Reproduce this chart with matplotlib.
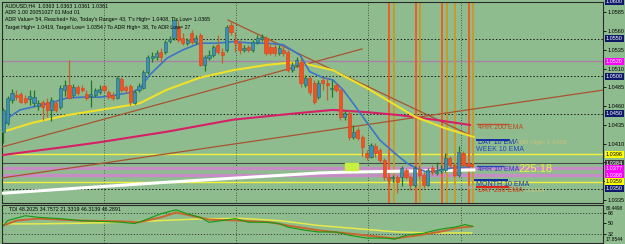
import numpy as np
import matplotlib
matplotlib.use("Agg")
import matplotlib.pyplot as plt
import matplotlib.transforms as mtransforms
from matplotlib.patches import Rectangle

plt.rcParams['font.family'] = ['Liberation Sans Narrow', 'Liberation Sans', 'DejaVu Sans']

# ---- H4 candles (AUDUSD) ----
opens = [1.0426, 1.0438, 1.0468, 1.0475, 1.0476, 1.0471, 1.0470, 1.0464, 1.0460, 1.0466,
         1.0466, 1.0455, 1.0464, 1.0459, 1.0482, 1.0488, 1.0475, 1.0486, 1.0484, 1.0476,
         1.0474, 1.0475, 1.0479, 1.0487, 1.0479, 1.0475, 1.0471, 1.0496, 1.0486, 1.0487,
         1.0464, 1.0482, 1.0484, 1.0506, 1.0524, 1.0526, 1.0532, 1.0532, 1.0547, 1.0551,
         1.0566, 1.0551, 1.0544, 1.0558, 1.0546, 1.0555, 1.0515, 1.0524, 1.0528, 1.0542,
         1.0532, 1.0535, 1.0568, 1.0548, 1.0544, 1.0535, 1.0539, 1.0535, 1.0546, 1.0550,
         1.0551, 1.0539, 1.0539, 1.0531, 1.0535, 1.0532, 1.0508, 1.0515, 1.0519, 1.0488,
         1.0498, 1.0491, 1.0472, 1.0495, 1.0491, 1.0483, 1.0488, 1.0482, 1.0446, 1.0451,
         1.0419, 1.0428, 1.0419, 1.0398, 1.0392, 1.0407, 1.0402, 1.0388, 1.0366, 1.0364,
         1.0366, 1.0366, 1.0375, 1.0366, 1.0355, 1.0376, 1.0368, 1.0355, 1.0378, 1.0371,
         1.0374, 1.0375, 1.0391, 1.0382, 1.0368, 1.0398, 1.0383, 1.0383]
highs = [1.0458, 1.0474, 1.0483, 1.0482, 1.0479, 1.0475, 1.0482, 1.0482, 1.0468, 1.0468,
         1.0471, 1.0472, 1.0468, 1.0488, 1.0495, 1.0522, 1.0490, 1.0488, 1.0488, 1.0482,
         1.0495, 1.0484, 1.0488, 1.0490, 1.0482, 1.0479, 1.0500, 1.0499, 1.0488, 1.0490,
         1.0482, 1.0491, 1.0508, 1.0528, 1.0532, 1.0535, 1.0538, 1.0548, 1.0554, 1.0578,
         1.0575, 1.0558, 1.0551, 1.0562, 1.0555, 1.0558, 1.0528, 1.0535, 1.0542, 1.0555,
         1.0538, 1.0568, 1.0574, 1.0559, 1.0548, 1.0542, 1.0542, 1.0548, 1.0555, 1.0556,
         1.0554, 1.0543, 1.0543, 1.0542, 1.0540, 1.0535, 1.0519, 1.0526, 1.0524, 1.0502,
         1.0500, 1.0495, 1.0495, 1.0499, 1.0498, 1.0495, 1.0491, 1.0484, 1.0454, 1.0455,
         1.0435, 1.0432, 1.0422, 1.0402, 1.0411, 1.0411, 1.0404, 1.0391, 1.0368, 1.0368,
         1.0368, 1.0380, 1.0378, 1.0368, 1.0380, 1.0382, 1.0372, 1.0378, 1.0382, 1.0386,
         1.0382, 1.0398, 1.0394, 1.0384, 1.0407, 1.0400, 1.0384, 1.0384]
lows = [1.0411, 1.0435, 1.0464, 1.0468, 1.0464, 1.0463, 1.0462, 1.0460, 1.0455, 1.0442,
        1.0446, 1.0440, 1.0452, 1.0456, 1.0474, 1.0470, 1.0472, 1.0475, 1.0479, 1.0468,
        1.0459, 1.0472, 1.0476, 1.0479, 1.0470, 1.0468, 1.0470, 1.0479, 1.0478, 1.0462,
        1.0463, 1.0479, 1.0483, 1.0503, 1.0519, 1.0522, 1.0519, 1.0530, 1.0544, 1.0548,
        1.0546, 1.0542, 1.0542, 1.0543, 1.0543, 1.0514, 1.0507, 1.0522, 1.0526, 1.0530,
        1.0518, 1.0532, 1.0555, 1.0532, 1.0530, 1.0532, 1.0532, 1.0532, 1.0543, 1.0547,
        1.0528, 1.0528, 1.0527, 1.0528, 1.0527, 1.0506, 1.0506, 1.0512, 1.0486, 1.0486,
        1.0475, 1.0463, 1.0470, 1.0482, 1.0468, 1.0472, 1.0479, 1.0442, 1.0442, 1.0415,
        1.0416, 1.0415, 1.0394, 1.0388, 1.0391, 1.0392, 1.0384, 1.0362, 1.0355, 1.0359,
        1.0344, 1.0354, 1.0363, 1.0348, 1.0352, 1.0364, 1.0351, 1.0354, 1.0368, 1.0368,
        1.0371, 1.0372, 1.0378, 1.0366, 1.0366, 1.0379, 1.0379, 1.0379]
closes = [1.0455, 1.0471, 1.0478, 1.0472, 1.0466, 1.0466, 1.0474, 1.0472, 1.0464, 1.0459,
          1.0455, 1.0468, 1.0455, 1.0484, 1.0488, 1.0471, 1.0486, 1.0478, 1.0482, 1.0471,
          1.0476, 1.0482, 1.0483, 1.0482, 1.0472, 1.0471, 1.0498, 1.0482, 1.0482, 1.0466,
          1.0479, 1.0487, 1.0506, 1.0526, 1.0527, 1.0531, 1.0526, 1.0546, 1.0550, 1.0575,
          1.0548, 1.0544, 1.0548, 1.0546, 1.0551, 1.0515, 1.0526, 1.0528, 1.0539, 1.0532,
          1.0528, 1.0566, 1.0559, 1.0544, 1.0535, 1.0538, 1.0535, 1.0546, 1.0551, 1.0552,
          1.0531, 1.0531, 1.0531, 1.0538, 1.0531, 1.0508, 1.0515, 1.0522, 1.0491, 1.0498,
          1.0479, 1.0466, 1.0491, 1.0491, 1.0488, 1.0484, 1.0482, 1.0446, 1.0451, 1.0419,
          1.0426, 1.0418, 1.0406, 1.0392, 1.0408, 1.0398, 1.0388, 1.0366, 1.0362, 1.0366,
          1.0359, 1.0378, 1.0366, 1.0355, 1.0378, 1.0368, 1.0355, 1.0375, 1.0372, 1.0374,
          1.0376, 1.0391, 1.0382, 1.0368, 1.0399, 1.0382, 1.0380, 1.0380]

# ---- moving averages, read at bar positions ----
ema10_bar = [0, 1.5, 3.8, 6.8, 10.7, 14.6, 18.2, 22.1, 26, 29.6, 31.2, 33.5, 37.4, 41, 44.9,
             48.8, 52.5, 57, 60.2, 63.9, 67.8, 70, 73, 75.3, 77.6, 79.9, 83.1, 86, 89.3,
             92.2, 94.1, 96.8, 99.8, 103, 106.6]
ema10_val = [1.0432, 1.0446, 1.0455, 1.0459, 1.0464, 1.0471, 1.0472, 1.0472, 1.0475, 1.0479,
             1.0484, 1.0502, 1.0524, 1.0535, 1.0544, 1.0544, 1.0546, 1.0544, 1.0544, 1.0542,
             1.0528, 1.0506, 1.0498, 1.0495, 1.0482, 1.0464, 1.0438, 1.0415, 1.0398, 1.0384,
             1.0378, 1.0372, 1.0375, 1.0378, 1.0379]
ema50_bar = [0, 6.8, 14.6, 22.1, 29.6, 31.2, 37.4, 44.9, 52.5, 60.2, 65.5, 67.8, 75.3, 83.1,
             90.6, 94, 100.7, 107.5]
ema50_val = [1.0426, 1.0438, 1.0448, 1.0455, 1.0462, 1.0464, 1.0482, 1.0498, 1.0508, 1.0515,
             1.0518, 1.0518, 1.0508, 1.0484, 1.0458, 1.0446, 1.0431, 1.0419]
ema200_bar = [0, 14.6, 22.1, 37.4, 52.5, 67.8, 75.3, 83.1, 90.6, 98.4, 106.6]
ema200_val = [1.0395, 1.0406, 1.0412, 1.0426, 1.0442, 1.0451, 1.0455, 1.0452, 1.0448, 1.0442,
              1.0435]
white_bar = [0, 35.8, 72.4, 78, 107.5]
white_val = [1.0344, 1.0358, 1.0371, 1.0372, 1.0375]

# ---- trend lines (start bar, start price, end bar, end price) ----
trend_lines = [(-0.3, 1.04056, 81.95, 1.05363),
               (-0.3, 1.03643, 137.2, 1.04816),
               (51.3, 1.05749, 107.5, 1.04189)]

# ---- horizontal levels ----
grid_levels = [1.0600, 1.0550, 1.0500, 1.0450, 1.0350]
price_ticks = [1.0585, 1.0560, 1.0535, 1.0510, 1.0485, 1.0460, 1.0435, 1.0410, 1.0385,
               1.0360, 1.0335]
hidden_ticks = [1.0385, 1.0360]
level_labels = [(1.0600, '1.0600', '#10186a', 'white'),
                (1.0550, '1.0550', '#10186a', 'white'),
                (1.0520, '1.0520', '#ff00ff', 'white'),
                (1.0500, '1.0500', '#10186a', 'white'),
                (1.0450, '1.0450', '#10186a', 'white'),
                (1.0396, '1.0396', '#ffff00', 'black'),
                (1.0384, '1.0384', '#3a3a3a', 'white'),
                (1.0377, '1.0377', '#ff00ff', 'white'),
                (1.0368, '1.0368', '#ff00ff', 'white'),
                (1.0359, '1.0359', '#ffff00', 'black'),
                (1.0350, '1.0350', '#10186a', 'white')]

# ---- TDI panel ----
tdi_green_bar = [0, 1, 5, 8, 13, 17.5, 23, 27, 30, 32, 36, 38.5, 39.5, 42, 45, 47, 50, 53, 56,
                 60, 63, 65, 69, 72, 76, 79, 83, 87, 89.5, 92, 96, 98.6, 101.4, 103.2, 105.5,
                 107.3]
tdi_green = [46.7, 54.8, 62.8, 60.1, 58.0, 54.8, 53.2, 52.0, 49.9, 54.8, 66.0, 70.8, 72.4, 66.0,
             60.1, 52.0, 54.8, 58.0, 52.0, 52.0, 49.9, 44.0, 38.7, 36.0, 36.0, 30.7, 25.9, 25.9,
             24.3, 30.7, 33.9, 38.7, 42.4, 44.0, 48.3, 45.1]
tdi_red_bar = [0, 3, 8, 17.5, 26.7, 31, 36, 39.5, 43, 47, 54, 61, 65, 72, 79, 86, 89.5, 95,
               99.5, 104, 107]
tdi_red = [46.7, 54.8, 58.0, 54.8, 53.6, 52.0, 60.1, 68.1, 62.8, 56.4, 54.8, 52.0, 46.7, 38.7,
           33.4, 27.9, 25.4, 30.7, 36.0, 43.0, 45.1]
tdi_yellow_bar = [0, 8, 17.5, 27, 36, 45, 54, 63, 72, 81, 90, 98, 107]
tdi_yellow = [49.4, 49.4, 50.4, 52.0, 54.8, 57.5, 58.5, 54.8, 46.7, 41.4, 36.0, 34.4, 34.4]

BG = '#8fbc8f'
W, H = 625, 244
fig = plt.figure(figsize=(W / 100, H / 100), dpi=100, facecolor=BG)
ax = fig.add_axes([2 / W, 41 / H, 601 / W, 201 / H], facecolor=BG)
axi = fig.add_axes([2 / W, 1 / H, 601 / W, 38 / H], facecolor=BG)

XMIN, XMAX = -0.3, 137.0
ax.set_xlim(XMIN, XMAX)
ax.set_ylim(1.03309, 1.05989)
axi.set_xlim(XMIN, XMAX)
axi.set_ylim(17.8544, 80.4498)

for a in (ax, axi):
    for s in a.spines.values():
        s.set_color('#2a2a2a')
        s.set_linewidth(0.8)
    a.set_xticks([])
    a.yaxis.tick_right()
    a.tick_params(axis='y', length=2, width=0.6, pad=1.2, labelsize=4.0, colors='black')
    for xg in [23.0, 53.2, 83.3, 104.6]:
        a.axvline(xg, color='#333333', lw=0.6, ls=(0, (1, 2)), zorder=1)

ax.set_yticks(price_ticks)
ax.set_yticklabels(['' if t in hidden_ticks else '%.4f' % t for t in price_ticks])

# grid and levels
for g in grid_levels:
    ax.axhline(g, color='#1a1a1a', lw=0.7, ls=(0, (1.5, 2)), zorder=1)
ax.axhline(1.0520, color='#a483a4', lw=1.0, zorder=1)
ax.axhline(1.0396, color='#f2f23c', lw=1.0, zorder=1)
ax.axhline(1.0359, color='#f2f23c', lw=1.0, zorder=1)
ax.axhline(1.0384, color='#4a4a4a', lw=0.8, zorder=1)
ax.axhline(1.0377, color='#c68cc6', lw=2.4, zorder=1)
ax.axhline(1.0368, color='#c68cc6', lw=2.4, zorder=1)

# vertical session lines
for xv in [88.0, 94.2, 100.2, 106.4]:
    ax.axvline(xv, color='#ee5f22', lw=1.4, zorder=2)
for xv in [89.3, 95.3, 101.4, 103.3, 107.3]:
    ax.axvline(xv, color='#c99a2e', lw=1.4, zorder=2)

# trend lines
for x0, y0, x1, y1 in trend_lines:
    ax.plot([x0, x1], [y0, y1], color='#a9532e', lw=0.9, zorder=3)

ax.plot(white_bar, white_val, color='white', lw=2.2, zorder=3)
ax.plot(ema200_bar, ema200_val, color='#d61f66', lw=1.5, zorder=3)
ax.plot(ema50_bar, ema50_val, color='#f0e028', lw=1.5, zorder=3)
ax.plot(ema10_bar, ema10_val, color='#3b74c8', lw=1.2, zorder=4)
ax.add_patch(Rectangle((78.1, 1.0375), 2.9, 0.0009, color='#c8f040', zorder=3))

# candles
o = np.array(opens)
c = np.array(closes)
idx = np.arange(len(c))
up = c >= o
wick_col = np.where(up, '#1f7a1f', '#c0622a')
body_col = np.where(up, '#3e8dbd', '#f25122')
edge_col = np.where(up, '#1f6a4a', '#d8401a')
ax.vlines(idx, lows, highs, colors=wick_col, lw=0.9, zorder=5)
ax.bar(idx, np.maximum(np.abs(c - o), 0.00008), bottom=np.minimum(o, c), width=0.72,
       color=body_col, edgecolor=edge_col, lw=0.4, zorder=6)

# EMA labels
def tag(x0, x1, y_line, y_text, text, line_col, text_col, lw=1.4):
    if y_line is not None:
        ax.plot([x0, x1], [y_line, y_line], color=line_col, lw=lw, zorder=7)
    ax.text(x0 + 0.3, y_text, text, color=text_col, fontsize=5.0, va='center', ha='left',
            zorder=8)

tag(108.2, 115.3, 1.0436, 1.0431, '4HR 200 EMA', '#c0502a', '#c04a20', lw=1.0)
tag(108.2, 115.3, 1.0415, 1.0411, 'DAY 10 EMA', '#1028a0', '#1838a8')
tag(107.8, 115.3, None, 1.0402, 'WEEK 10 EMA', '#1028a0', '#2448b8')
tag(108.2, 114.2, 1.0380, 1.0375, '4HR 10 EMA', '#2848b8', '#2448b8', lw=1.0)
tag(107.8, 115.1, 1.0362, 1.0356, 'MONTH 10 EMA', '#1028a0', '#1838a8')
tag(108.2, 115.3, 1.0352, 1.0347, 'DAY 200 EMA', '#e02020', '#d83c14')
ax.text(117.6, 1.0376, '225:18', color='#f4f040', fontsize=8.0, va='center', ha='left', zorder=8)
ax.text(117.0, 1.0412, 'ADR High: 1.0419', color='#c9c27a', fontsize=4.6, va='center', zorder=8)
ax.text(119.4, 1.0347, '1.0354', color='#c9c27a', fontsize=4.6, va='center', zorder=8)
ax.text(101.4, 1.0351, 'ADR Start', color='#a2b6c6', fontsize=4.3, va='center', zorder=8)

# price labels on the axis
trans = mtransforms.blended_transform_factory(ax.transAxes, ax.transData)
for p, txt, fc, tc in level_labels:
    ax.text(1.0045, p, txt, transform=trans, fontsize=4.0, color=tc, va='center', ha='left',
            bbox=dict(boxstyle='square,pad=0.18', fc=fc, ec='none'), clip_on=False, zorder=10)

# header
header = ['AUDUSD,H4  1.0363 1.0363 1.0361 1.0361',
          'ADR 1.00 20051027 01 Mod 01',
          "ADR Value= 54, Reached= No, Today's Range= 43, T's High= 1.0408, T's Low= 1.0365",
          'Target High= 1.0419, Target Low= 1.0354 / To ADR High= 38, To ADR Low= 27']
for k, line in enumerate(header):
    fig.text(5 / W, 1 - (6 + 7 * k) / H, line, fontsize=3.8, color='black', va='center',
             ha='left', zorder=9)

# TDI panel
for lv in [68, 32]:
    axi.axhline(lv, color='#333333', lw=0.6, ls=(0, (1.5, 2)))
axi.plot(tdi_yellow_bar, tdi_yellow, color='#e6ea4a', lw=1.1)
axi.plot(tdi_red_bar, tdi_red, color='#c9652e', lw=1.4)
axi.plot(tdi_green_bar, tdi_green, color='#139a13', lw=0.8)
axi.set_yticks([68, 50, 32])
axi.set_yticklabels(['68', '50', '32'], fontsize=3.8)
axi.text(1.004, 0.9, '80.4498', transform=axi.transAxes, fontsize=3.4, va='center',
         ha='left', clip_on=False)
axi.text(1.004, 0.1, '17.8544', transform=axi.transAxes, fontsize=3.4, va='center',
         ha='left', clip_on=False)
axi.text(1.3, 72.5, 'TDI 48.2025 34.7572 21.3319 46.3139 46.2891', fontsize=3.8,
         color='black', va='center', ha='left')

fig.savefig('out.png', dpi=100, facecolor=BG)
